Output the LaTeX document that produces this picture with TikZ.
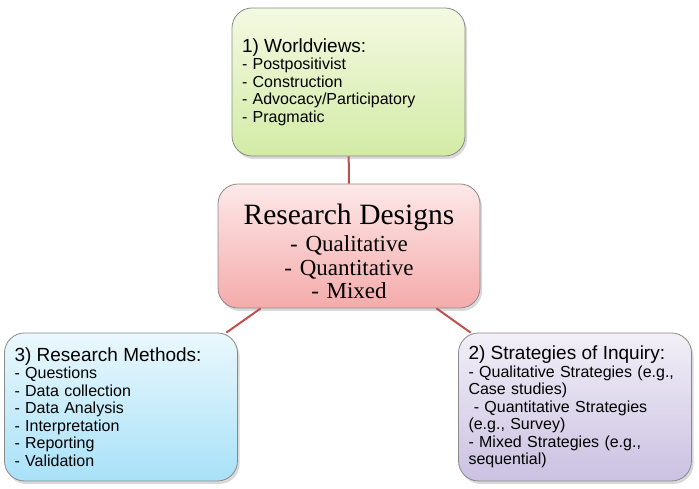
\documentclass[tikz,border=0pt]{standalone}
\usepackage{fontspec}
\setmainfont{Liberation Sans}
\newfontfamily\designfont{Liberation Serif}
\usetikzlibrary{shadows}
\definecolor{boxgray}{HTML}{8A8A8A}
\definecolor{linkred}{HTML}{C0504D}
\definecolor{greentop}{HTML}{F4F9E2}
\definecolor{greenbot}{HTML}{D3EBA6}
\definecolor{pinktop}{HTML}{FDE8E8}
\definecolor{pinkbot}{HTML}{F5ABAB}
\definecolor{bluetop}{HTML}{EAF8FD}
\definecolor{bluebot}{HTML}{A8E1F8}
\definecolor{purpletop}{HTML}{F2EFF7}
\definecolor{purplebot}{HTML}{CBC1E2}
\begin{document}
\begin{tikzpicture}[x=1pt, y=1pt,
    box/.style={draw=boxgray, line width=0.8pt, rounded corners=20pt,
        minimum width=233pt, minimum height=148pt, text width=213pt,
        inner sep=0pt, align=left, font=\fontsize{16}{17.5}\selectfont,
        drop shadow={shadow xshift=2pt, shadow yshift=-3pt, opacity=0.3}},
    link/.style={draw=linkred, line width=2pt}]
    \useasboundingbox (0,0) rectangle (699,489);
    \node[box, top color=greentop, bottom color=greenbot] (world) at (348.5,407)
        {{\fontsize{19}{20}\selectfont 1) Worldviews:}\\
        - Postpositivist\\
        - Construction\\
        - Advocacy/Participatory\\
        - Pragmatic};
    \node[box, top color=pinktop, bottom color=pinkbot, minimum width=262pt,
        minimum height=124pt, text width=250pt, align=center,
        font=\designfont\fontsize{23}{23.5}\selectfont] (design) at (349,243)
        {\rule{0pt}{31pt}{\fontsize{29.5}{30}\selectfont Research Designs}\\[4pt]
        - Qualitative\\
        - Quantitative\\
        - Mixed};
    \node[box, top color=bluetop, bottom color=bluebot] (methods) at (121,82)
        {{\fontsize{19}{20}\selectfont 3) Research Methods:}\\
        - Questions\\
        - Data collection\\
        - Data Analysis\\
        - Interpretation\\
        - Reporting\\
        - Validation};
    \node[box, top color=purpletop, bottom color=purplebot] (inquiry) at (575,82)
        {{\fontsize{19}{20}\selectfont 2) Strategies of Inquiry:}\\
        - Qualitative Strategies (e.g.,\\
        Case studies)\\
        \hphantom{ }- Quantitative Strategies\\
        (e.g., Survey)\\
        - Mixed Strategies (e.g.,\\
        sequential)};
    \draw[link] (world) -- (design);
    \draw[link] (design) -- (methods);
    \draw[link] (design) -- (inquiry);
\end{tikzpicture}
\end{document}
